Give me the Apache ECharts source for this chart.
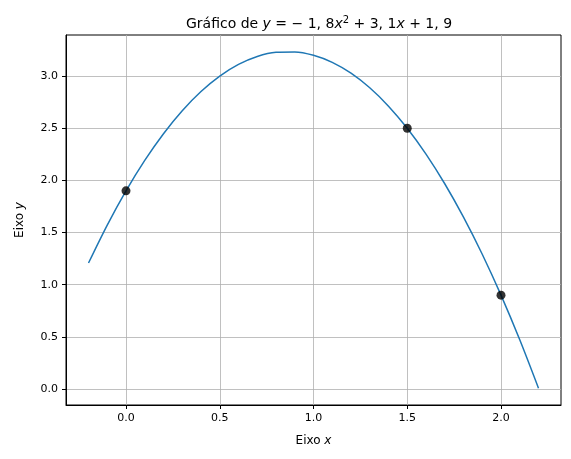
<!DOCTYPE html>
<html><head><meta charset="utf-8">
<script src="https://cdn.jsdelivr.net/npm/echarts@6/dist/echarts.min.js"></script>
<style>html,body{margin:0;padding:0;background:#fff}#c{width:571px;height:459px}</style>
</head><body><div id="c"></div>
<script>
const curveX = [-0.2,-0.1,0,0.1,0.2,0.3,0.4,0.5,0.6,0.7,0.8,0.9,1.0,1.1,1.2,1.3,1.4,1.5,1.6,1.7,1.8,1.9,2.0,2.1,2.2];
const curveY = [1.208,1.572,1.9,2.192,2.448,2.668,2.852,3.0,3.112,3.188,3.228,3.232,3.2,3.132,3.028,2.888,2.712,2.5,2.252,1.968,1.648,1.292,0.9,0.472,0.008];
const pointsX = [0, 1.5, 2.0];
const pointsY = [1.9, 2.5, 0.9];
const xTicks = [0, 0.5, 1.0, 1.5, 2.0];
const yTicks = [0, 0.5, 1.0, 1.5, 2.0, 2.5, 3.0];
const font = 'DejaVu Sans';
const chart = echarts.init(document.getElementById('c'));
function axis(ticks){
  return {
    type:'value',
    axisLine:{show:true,onZero:false,lineStyle:{color:'#000'}},
    axisTick:{show:true,length:4,customValues:ticks,lineStyle:{color:'#000'}},
    axisLabel:{color:'#000',fontFamily:font,fontSize:11,customValues:ticks,formatter:v=>v.toFixed(1)},
    splitLine:{show:true,lineStyle:{color:'#b0b0b0',width:0.8}}
  };
}
const nameStyle = {rich:{n:{fontFamily:font,fontSize:12,color:'#000'},i:{fontFamily:font,fontStyle:'italic',fontSize:12,color:'#000'}}};
chart.setOption({
  animation:false,
  title:{text:'{n|Gráfico de }{i|y}{n| = − 1, 8}{i|x}{s|2}{n| + 3, 1}{i|x}{n| + 1, 9}',left:314,top:10,textAlign:'center',
    textStyle:{rich:{n:{fontFamily:font,fontSize:14,color:'#000',fontWeight:'normal'},i:{fontFamily:font,fontStyle:'italic',fontWeight:'normal',fontSize:14,color:'#000'},s:{fontFamily:font,fontSize:10,fontWeight:'normal',color:'#000',verticalAlign:'top',padding:[0,0,8,0]}}}},
  grid:{left:66,right:10,top:35,bottom:54,show:true,borderColor:'#000',borderWidth:1},
  xAxis:Object.assign(axis(xTicks),{min:-0.32,max:2.32,position:'bottom',
    name:'{n|Eixo }{i|x}',nameLocation:'middle',nameGap:30,nameTextStyle:nameStyle}),
  yAxis:Object.assign(axis(yTicks),{min:-0.153,max:3.394,
    name:'{n|Eixo }{i|y}',nameLocation:'middle',nameGap:40,nameRotate:90,nameTextStyle:nameStyle}),
  series:[
    {type:'line',data:curveX.map((x,i)=>[x,curveY[i]]),smooth:0.3,showSymbol:false,lineStyle:{color:'#1f77b4',width:1.5}},
    {type:'scatter',data:pointsX.map((x,i)=>[x,pointsY[i]]),symbolSize:9,itemStyle:{color:'#000'},z:5}
  ]
});
</script></body></html>
